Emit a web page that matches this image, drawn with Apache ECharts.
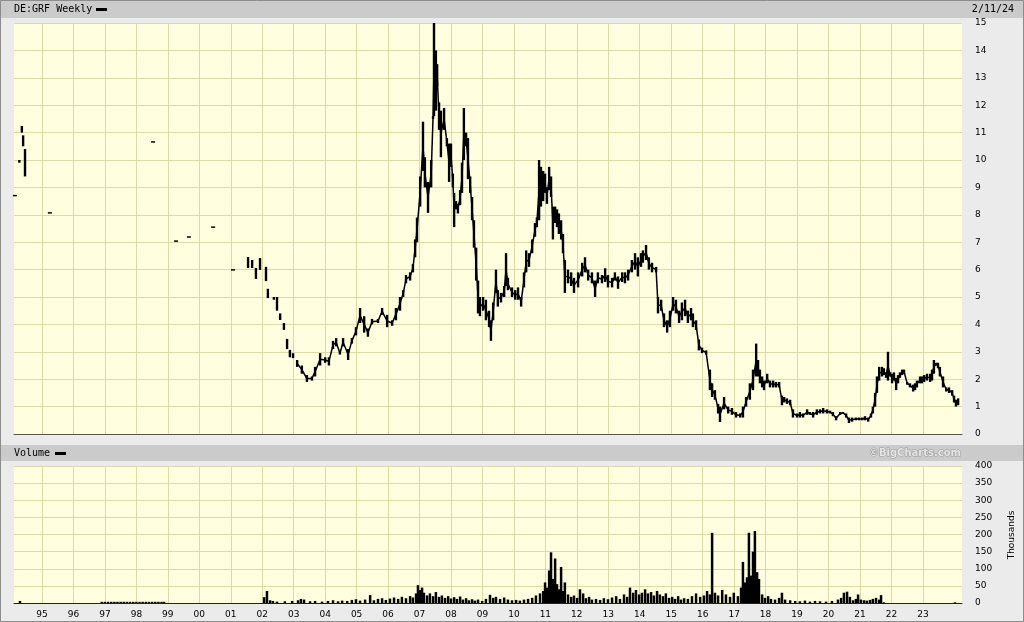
<!DOCTYPE html>
<html>
<head>
<meta charset="utf-8">
<script src="https://cdn.jsdelivr.net/npm/echarts@6/dist/echarts.min.js"></script>
<style>
html,body{margin:0;padding:0;background:#ebebeb;}
#chart{width:1024px;height:622px;}
</style>
</head>
<body>
<div id="chart"></div>
<script>
// ---- data (decimal years) ----
const yearTicks = [1995,1996,1997,1998,1999,2000,2001,2002,2003,2004,2005,2006,2007,2008,2009,2010,2011,2012,2013,2014,2015,2016,2017,2018,2019,2020,2021,2022,2023];
const priceTicks = [0,1,2,3,4,5,6,7,8,9,10,11,12,13,14,15];
const volumeTicks = [0,50,100,150,200,250,300,350,400];

const priceT = [
 1994.14,1994.28,1994.36,1994.40,1994.46,1995.25,1998.53,1999.26,1999.67,2000.44,2001.07,
 2001.55,2001.68,2001.80,2001.93,2002.12,2002.18,2002.37,2002.47,2002.57,2002.69,2002.79,2002.88,2002.98,
 2003.11,2003.26,2003.42,2003.58,2003.68,2003.84,2004.00,2004.12,2004.25,2004.35,2004.47,2004.57,2004.73,2004.85,2004.98,
 2005.11,2005.24,2005.36,2005.49,2005.68,2005.81,2005.97,2006.13,2006.25,2006.38,2006.48,2006.57,2006.70,2006.79,2006.86,2006.92,
 2007.02,2007.11,2007.17,2007.27,2007.37,2007.43,2007.46,2007.52,2007.56,2007.62,2007.68,2007.78,2007.87,2007.94,
 2008.00,2008.06,2008.10,2008.16,2008.22,2008.29,2008.35,2008.41,2008.48,2008.54,2008.61,2008.67,2008.73,2008.80,2008.86,2008.92,
 2009.02,2009.11,2009.21,2009.27,2009.34,2009.43,2009.49,2009.59,2009.69,2009.75,2009.81,2009.94,
 2010.04,2010.13,2010.23,2010.32,2010.39,2010.48,2010.58,2010.67,2010.73,2010.80,2010.86,2010.93,2010.99,
 2011.05,2011.12,2011.18,2011.24,2011.31,2011.37,2011.43,2011.50,2011.56,2011.62,2011.72,2011.82,2011.91,
 2012.04,2012.17,2012.26,2012.36,2012.48,2012.58,2012.67,2012.80,2012.90,2012.99,
 2013.12,2013.21,2013.31,2013.44,2013.53,2013.63,2013.75,2013.85,2013.94,
 2014.04,2014.10,2014.20,2014.29,2014.39,2014.52,2014.58,2014.68,2014.77,2014.87,2014.96,
 2015.06,2015.15,2015.25,2015.34,2015.44,2015.53,2015.63,2015.69,2015.79,2015.88,2015.98,
 2016.11,2016.23,2016.30,2016.39,2016.49,2016.55,2016.68,2016.81,2016.93,
 2017.06,2017.19,2017.28,2017.38,2017.50,2017.60,2017.70,2017.76,2017.82,2017.89,2017.95,
 2018.05,2018.14,2018.24,2018.33,2018.43,2018.52,2018.59,2018.68,2018.78,2018.87,
 2019.00,2019.09,2019.19,2019.32,2019.41,2019.51,2019.63,2019.73,2019.83,2019.95,
 2020.05,2020.14,2020.24,2020.37,2020.46,2020.56,2020.65,2020.75,2020.87,2020.97,
 2021.07,2021.16,2021.26,2021.35,2021.41,2021.48,2021.54,2021.61,2021.70,2021.76,2021.83,2021.89,2021.96,
 2022.02,2022.08,2022.15,2022.21,2022.27,2022.34,2022.40,2022.50,2022.59,2022.69,2022.75,2022.81,2022.91,2022.97,
 2023.04,2023.13,2023.23,2023.29,2023.35,2023.42,2023.48,2023.54,2023.64,2023.74,2023.83,2023.93,2023.99,2024.05,2024.12
];
const priceLow = [
 8.7,9.9,11.0,10.5,9.4,8.07,10.66,7.04,7.19,7.55,5.99,
 6.06,6.06,5.66,5.99,5.58,4.96,4.9,4.5,4.16,3.8,3.1,2.8,2.77,
 2.45,2.2,1.9,1.95,2.1,2.5,2.6,2.5,3.1,3.2,2.9,3.2,2.7,3.3,3.6,
 4.05,3.7,3.55,4.0,4.05,4.35,3.9,3.95,4.15,4.5,5.0,5.5,5.6,5.9,6.45,7.0,
 8.3,9.6,9.0,8.07,9.0,11.5,11.6,11.8,12.7,11.1,10.1,11.1,10.5,9.2,
 9.75,9.0,7.55,8.2,8.05,8.35,8.8,10.0,10.5,9.3,8.8,7.8,6.8,5.6,4.4,4.3,
 4.5,4.15,3.9,3.4,4.15,5.15,4.65,4.8,5.0,5.4,5.25,5.0,
 4.9,4.9,4.65,5.35,5.9,6.1,6.6,7.2,7.55,7.8,8.3,8.5,8.8,
 8.4,8.9,8.65,7.1,7.7,7.55,7.3,7.1,6.6,5.15,5.5,5.4,5.15,
 5.35,5.75,5.9,5.6,5.5,5.0,5.5,5.5,5.55,5.35,
 5.35,5.6,5.3,5.55,5.5,5.6,5.9,6.0,5.75,
 6.1,6.25,6.35,6.0,5.9,5.9,4.4,4.5,3.9,3.7,3.9,
 4.5,4.4,4.05,4.15,4.3,4.05,4.15,3.9,3.8,3.05,2.95,
 2.9,1.6,1.35,1.25,0.75,0.44,0.9,0.75,0.7,
 0.6,0.6,0.6,1.0,1.25,1.6,2.1,2.1,1.85,1.7,1.6,
 1.85,1.7,1.7,1.7,1.7,1.05,1.15,1.1,1.05,0.6,
 0.6,0.6,0.6,0.7,0.7,0.6,0.7,0.75,0.75,0.75,
 0.75,0.65,0.5,0.7,0.75,0.6,0.4,0.45,0.5,0.5,
 0.5,0.5,0.45,0.6,0.75,1.0,1.5,1.95,2.1,2.15,2.05,1.95,2.1,
 1.85,1.95,1.6,1.85,2.05,2.15,2.2,1.8,1.7,1.55,1.6,1.7,1.85,1.85,
 1.9,1.95,1.9,1.95,2.2,2.5,2.4,2.1,1.7,1.55,1.5,1.4,1.15,1.0,1.05
];
const priceHigh = [
 8.7,10.0,11.24,10.9,10.4,8.07,10.66,7.04,7.19,7.55,5.99,
 6.46,6.35,6.06,6.42,6.1,5.3,5.0,5.0,4.4,4.05,3.47,3.07,2.95,
 2.7,2.5,2.15,2.1,2.45,2.95,2.8,2.8,3.4,3.5,3.0,3.5,3.1,3.5,3.9,
 4.6,4.3,3.85,4.2,4.2,4.6,4.35,4.15,4.6,5.0,5.25,5.8,5.9,6.2,7.1,7.9,
 9.4,11.4,10.1,9.2,10.0,11.6,15.0,14.0,13.5,12.1,11.8,11.9,10.8,10.6,
 10.6,9.5,8.8,8.5,8.4,8.9,9.9,11.9,11.0,10.8,9.4,8.65,7.8,6.8,5.6,5.0,
 5.0,4.9,4.5,4.15,4.8,6.0,5.25,5.15,5.4,6.6,5.7,5.35,
 5.25,5.35,5.0,5.9,6.7,6.6,7.1,7.7,7.9,10.0,9.75,9.6,9.5,
 9.0,9.75,9.4,8.3,8.3,8.2,8.05,7.8,7.3,6.35,6.0,5.9,5.7,
 5.9,6.25,6.45,6.0,5.9,5.6,5.9,5.8,6.05,5.8,
 5.7,5.9,5.75,5.9,5.9,6.0,6.35,6.6,6.45,
 6.6,6.7,6.9,6.45,6.25,6.1,5.0,4.9,4.4,4.15,4.5,
 5.0,4.9,4.5,4.8,4.9,4.5,4.6,4.4,4.15,3.45,3.15,
 3.05,2.35,1.85,1.6,1.1,1.0,1.35,1.0,0.95,
 0.8,0.75,1.0,1.35,1.85,2.35,3.3,2.7,2.35,2.1,1.95,
 2.2,1.95,1.95,1.9,1.9,1.4,1.35,1.3,1.25,0.9,
 0.75,0.8,0.75,0.9,0.8,0.8,0.9,0.9,0.95,0.9,
 0.85,0.8,0.65,0.8,0.8,0.75,0.6,0.6,0.6,0.6,
 0.6,0.65,0.6,0.75,1.0,1.5,2.1,2.45,2.45,2.4,2.25,3.0,2.25,
 2.2,2.25,2.05,2.15,2.25,2.35,2.35,1.9,1.85,1.8,1.85,1.95,2.1,2.1,
 2.15,2.2,2.2,2.35,2.7,2.6,2.6,2.45,2.1,1.7,1.7,1.6,1.4,1.25,1.3
];

// volume, thousands
const volT = [
 1994.30,
 1996.90,1997.00,1997.10,1997.20,1997.30,1997.40,1997.50,1997.60,1997.70,1997.80,1997.90,1998.00,1998.10,1998.20,1998.30,1998.40,1998.50,1998.60,1998.70,1998.80,1998.88,
 2002.06,2002.15,2002.25,2002.34,2002.47,2002.72,2002.95,2003.14,2003.23,2003.33,2003.52,2003.68,2003.90,
 2004.09,2004.25,2004.41,2004.54,2004.70,2004.85,2004.98,2005.11,2005.27,2005.43,2005.55,2005.68,2005.81,2005.93,
 2006.06,2006.19,2006.32,2006.44,2006.57,2006.70,2006.79,2006.89,2006.95,2007.02,2007.08,2007.14,2007.24,2007.33,2007.43,2007.52,2007.62,2007.71,2007.81,2007.91,
 2008.00,2008.10,2008.19,2008.29,2008.38,2008.48,2008.57,2008.67,2008.76,2008.86,2008.99,
 2009.11,2009.24,2009.34,2009.43,2009.56,2009.69,2009.81,2009.94,
 2010.07,2010.19,2010.32,2010.45,2010.58,2010.70,2010.83,2010.93,2010.99,
 2011.05,2011.12,2011.18,2011.24,2011.31,2011.37,2011.43,2011.50,2011.56,2011.62,2011.72,2011.82,2011.91,
 2012.01,2012.10,2012.20,2012.29,2012.39,2012.48,2012.61,2012.74,2012.86,2012.99,
 2013.12,2013.25,2013.37,2013.50,2013.60,2013.69,2013.79,2013.88,2013.98,
 2014.07,2014.17,2014.26,2014.36,2014.45,2014.55,2014.64,2014.74,2014.83,2014.93,
 2015.03,2015.12,2015.22,2015.31,2015.41,2015.53,2015.66,2015.79,2015.92,
 2016.04,2016.14,2016.23,2016.30,2016.39,2016.49,2016.62,2016.74,2016.87,2016.99,
 2017.12,2017.22,2017.28,2017.35,2017.41,2017.47,2017.54,2017.60,2017.66,2017.73,2017.79,2017.89,2017.98,
 2018.08,2018.17,2018.30,2018.43,2018.52,2018.62,2018.78,2018.94,
 2019.09,2019.25,2019.41,2019.57,2019.73,2019.92,
 2020.11,2020.30,2020.40,2020.49,2020.59,2020.68,2020.78,2020.87,2020.94,
 2021.03,2021.13,2021.22,2021.32,2021.41,2021.51,2021.61,2021.67,2021.76,
 2024.02
];
const volK = [
 6,
 3.5,3.5,3.5,3.5,3.5,3.5,3.5,3.5,3.5,3.5,3.5,3.5,3.5,3.5,3.5,3.5,3.5,3.5,3.5,3.5,3.5,
 17,35,8,6,4,5,6,8,12,10,5,6,4,
 6,8,5,7,6,9,11,7,10,23,8,12,14,9,
 13,16,12,18,14,20,16,28,52,38,45,30,22,28,20,32,18,22,15,20,
 13,17,12,19,10,14,8,11,7,10,6,
 12,24,15,18,12,16,10,8,
 9,7,10,12,15,22,28,35,60,
 45,95,148,70,130,55,40,105,35,60,25,18,22,
 15,40,28,14,18,10,12,9,14,11,
 16,20,12,25,18,45,30,38,25,
 30,40,28,32,22,35,25,20,28,15,
 18,12,20,10,14,12,20,28,18,
 22,35,25,205,30,22,38,25,18,30,
 20,45,120,60,75,205,80,150,210,90,70,25,15,
 20,12,10,15,30,10,8,6,
 5,7,4,6,5,4,
 6,10,15,30,33,18,8,12,25,
 10,8,7,9,12,15,10,23,2,
 2
];

// ---- layout constants ----
const PLOT_L = 14, PLOT_W = 948;
const X_MIN = 1994.11, X_MAX = 2024.243;
const GRID_C = '#dcdaa6';
const FONT = 'DejaVu Sans';
const CONNECT_FROM = 2003.0;

const chart = echarts.init(document.getElementById('chart'), null, {renderer: 'canvas'});

function xAxisCfg(gridIndex, showLabels) {
  return {
    type: 'value', gridIndex, min: X_MIN, max: X_MAX,
    axisLine: {show: true, onZero: false, lineStyle: {color: showLabels ? '#222' : '#555', width: 1}},
    axisTick: {show: false, customValues: yearTicks},
    axisLabel: {show: showLabels, customValues: yearTicks, color: '#000', fontFamily: FONT, fontSize: 9, margin: 7,
      formatter: v => String(Math.round(v)).slice(2)},
    splitLine: {show: true, lineStyle: {color: GRID_C, width: 1}}
  };
}

const priceData = priceT.map((t, i) => [t, priceLow[i], priceHigh[i]]);
const volData = volT.map((t, i) => [t, volK[i]]);

chart.setOption({
  backgroundColor: '#ebebeb',
  animation: false,
  grid: [
    {left: PLOT_L, top: 23, width: PLOT_W, height: 411, show: true, backgroundColor: '#ffffe0', borderWidth: 0},
    {left: PLOT_L, top: 466, width: PLOT_W, height: 137, show: true, backgroundColor: '#ffffe0', borderWidth: 0}
  ],
  xAxis: [xAxisCfg(0, false), xAxisCfg(1, true)],
  yAxis: [
    {type: 'value', gridIndex: 0, position: 'right', min: 0, max: 15, interval: 1,
     axisLine: {show: false}, axisTick: {show: false},
     axisLabel: {color: '#000', fontFamily: FONT, fontSize: 9, margin: 13},
     splitLine: {show: true, lineStyle: {color: GRID_C, width: 1}}},
    {type: 'value', gridIndex: 1, position: 'right', min: 0, max: 400, interval: 50,
     axisLine: {show: false}, axisTick: {show: false},
     axisLabel: {color: '#000', fontFamily: FONT, fontSize: 9, margin: 13},
     splitLine: {show: true, lineStyle: {color: GRID_C, width: 1}}}
  ],
  series: [
    {
      type: 'custom', xAxisIndex: 0, yAxisIndex: 0, data: priceData, z: 5,
      encode: {x: 0, y: [1, 2]},
      renderItem: function (params, api) {
        const i = params.dataIndex;
        const t = api.value(0), lo = api.value(1), hi = api.value(2);
        const top = api.coord([t, hi]), bot = api.coord([t, lo]);
        const single = lo === hi;
        const w = single ? 4 : 2.4;
        const children = [{
          type: 'rect',
          shape: {x: top[0] - w / 2, y: top[1] - (single ? 0.75 : 0), width: w, height: Math.max(1.5, bot[1] - top[1])},
          style: {fill: '#000'}
        }];
        if (t >= CONNECT_FROM && i + 1 < priceT.length && priceT[i + 1] - t < 0.3) {
          const a = api.coord([t, (lo + hi) / 2]);
          const b = api.coord([priceT[i + 1], (priceLow[i + 1] + priceHigh[i + 1]) / 2]);
          children.push({type: 'line', shape: {x1: a[0], y1: a[1], x2: b[0], y2: b[1]},
            style: {stroke: '#000', lineWidth: 1.5}});
        }
        return {type: 'group', children};
      }
    },
    {
      type: 'custom', xAxisIndex: 1, yAxisIndex: 1, data: volData, z: 5,
      encode: {x: 0, y: 1},
      renderItem: function (params, api) {
        const t = api.value(0), v = api.value(1);
        const top = api.coord([t, v]), bot = api.coord([t, 0]);
        return {type: 'rect', shape: {x: top[0] - 1.25, y: top[1], width: 2.5, height: Math.max(1, bot[1] - top[1])},
          style: {fill: '#000'}};
      }
    }
  ],
  graphic: [
    {type: 'rect', shape: {x: 0, y: 0, width: 1024, height: 18}, style: {fill: '#cbcbcb'}, z: 0},
    {type: 'text', left: 14, top: 4, style: {text: 'DE:GRF Weekly', fill: '#000', font: '10px "DejaVu Sans Mono"'}},
    {type: 'rect', shape: {x: 96, y: 8, width: 11, height: 3}, style: {fill: '#000'}},
    {type: 'text', right: 10, top: 4, style: {text: '2/11/24', fill: '#000', font: '10px "DejaVu Sans Mono"'}},
    {type: 'rect', shape: {x: 0, y: 445, width: 1024, height: 16}, style: {fill: '#cbcbcb'}, z: 0},
    {type: 'text', left: 14, top: 448, style: {text: 'Volume', fill: '#000', font: '10px "DejaVu Sans Mono"'}},
    {type: 'rect', shape: {x: 55, y: 452, width: 11, height: 3}, style: {fill: '#000'}},
    {type: 'text', x: 961, y: 453, style: {text: '©BigCharts.com', fill: '#e4e4e4', align: 'right', verticalAlign: 'middle',
      font: 'bold 10px "DejaVu Sans"', stroke: '#9a9a9a', lineWidth: 1}},
    {type: 'text', x: 1012, y: 535, rotation: Math.PI / 2, style: {text: 'Thousands', fill: '#000', align: 'center',
      verticalAlign: 'middle', font: '9px "DejaVu Sans"'}},
    {type: 'rect', shape: {x: 0.5, y: 0.5, width: 1023, height: 621}, style: {fill: 'none', stroke: '#8c8c8c', lineWidth: 1}, z: 10}
  ]
});
</script>
</body>
</html>
